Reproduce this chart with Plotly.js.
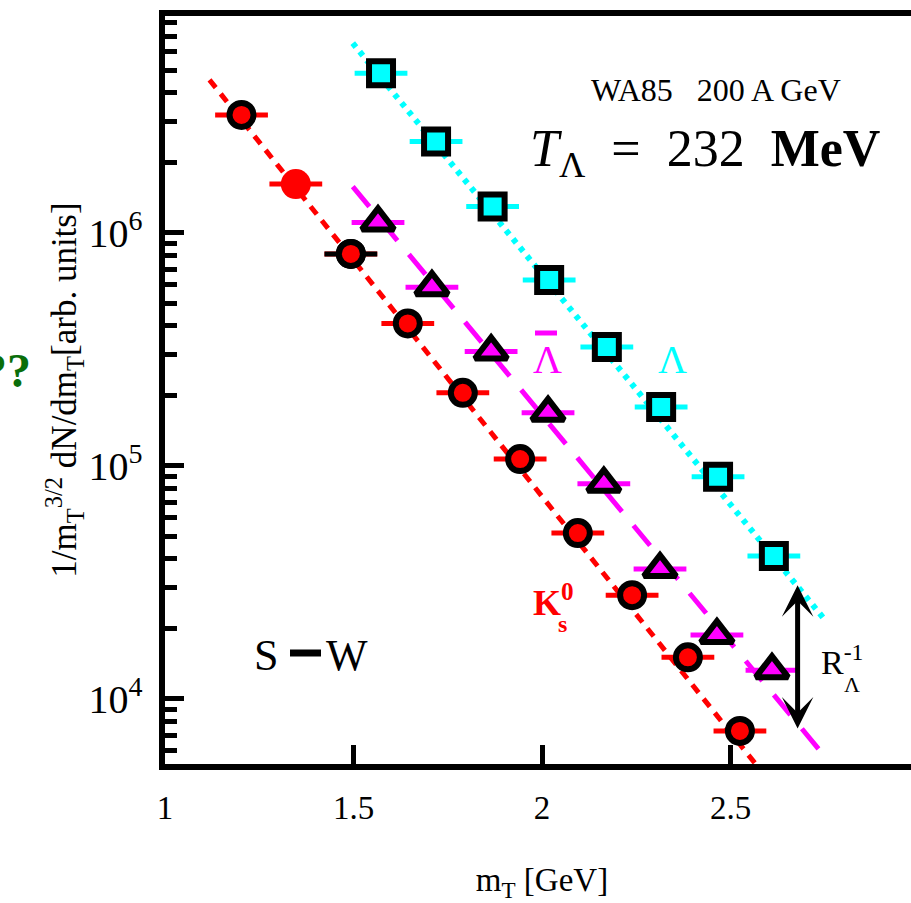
<!DOCTYPE html>
<html>
<head>
<meta charset="utf-8">
<script src="https://cdn.plot.ly/plotly-3.0.1.min.js"></script>
<style>
html,body{margin:0;padding:0;overflow:hidden;background:#fff;}
#chart{width:919px;height:903px;}
</style>
</head>
<body>
<div id="chart"></div>
<script>
// ---- data ----
// K0s (red circles, black outline)
const k0X = [1.203, 1.493, 1.644, 1.790, 1.942, 2.095, 2.239, 2.387, 2.525];
const k0Y = [3.21e6, 8.13e5, 4.09e5, 2.06e5, 1.07e5, 5.15e4, 2.79e4, 1.51e4, 7.29e3];
const k0ErrX = [0.07, 0.07, 0.07, 0.07, 0.07, 0.07, 0.07, 0.07, 0.07];
const k0BlackBarIndex = 1;
// extra filled red point (no outline)
const k0ExtraX = [1.347];
const k0ExtraY = [1.62e6];
const k0ExtraErrX = [0.07];
// anti-Lambda (magenta triangles)
const alamX = [1.565, 1.708, 1.865, 2.016, 2.164, 2.313, 2.464, 2.610];
const alamY = [1.11e6, 5.85e5, 3.10e5, 1.69e5, 8.38e4, 3.61e4, 1.88e4, 1.33e4];
const alamErrX = [0.07, 0.07, 0.07, 0.07, 0.07, 0.07, 0.07, 0.07];
// Lambda (cyan squares)
const lamX = [1.573, 1.719, 1.869, 2.019, 2.172, 2.316, 2.467, 2.615];
const lamY = [4.84e6, 2.47e6, 1.30e6, 6.28e5, 3.24e5, 1.79e5, 8.98e4, 4.11e4];
const lamErrX = [0.07, 0.07, 0.07, 0.07, 0.07, 0.07, 0.07, 0.07];
// exponential fits (end points)
const fitK0X = [1.118, 2.600];
const fitK0Y = [4.54e6, 4.50e3];
const fitAlamX = [1.498, 2.745];
const fitAlamY = [1.58e6, 5.80e3];
const fitLamX = [1.498, 2.745];
const fitLamY = [6.52e6, 2.24e4];
// R_Lambda^-1 double arrow
const arrowX = 2.678;
const arrowY = [3.08e4, 7.36e3];
// axes
const xRange = [1, 3];
const yRangeLog = [3.721, 6.931];
const xTicks = [1, 1.5, 2, 2.5];
const xTickText = ['1', '1.5', '2', '2.5'];

const RED = '#ff0000', MAG = '#ff00ff', CYAN = '#00ffff', BLK = '#000000';
const FONT = 'Liberation Serif, Times New Roman, serif';

function errX(arr, color) {
  return {type: 'data', symmetric: true, array: arr, color: color, thickness: 5, width: 0};
}

const traces = [
  {x: fitK0X, y: fitK0Y, mode: 'lines', line: {color: RED, width: 5, dash: '10px,8px'}, hoverinfo: 'skip'},
  {x: fitAlamX, y: fitAlamY, mode: 'lines', line: {color: MAG, width: 5, dash: '26px,18px'}, hoverinfo: 'skip'},
  {x: fitLamX, y: fitLamY, mode: 'lines', line: {color: CYAN, width: 6, dash: '5px,6px'}, hoverinfo: 'skip'},
  {x: k0ExtraX, y: k0ExtraY, mode: 'markers', error_x: errX(k0ExtraErrX, RED),
   marker: {symbol: 'circle', size: 30, color: RED, line: {width: 0}}},
  {x: k0X, y: k0Y, mode: 'markers', error_x: errX(k0ErrX, RED),
   marker: {symbol: 'circle', size: 24, color: RED, line: {color: BLK, width: 6}}},
  {x: [k0X[k0BlackBarIndex]], y: [k0Y[k0BlackBarIndex]], mode: 'markers',
   error_x: errX([k0ErrX[k0BlackBarIndex]], BLK),
   marker: {symbol: 'circle', size: 24, color: RED, line: {color: BLK, width: 6}}},
  {x: alamX, y: alamY, mode: 'markers', error_x: errX(alamErrX, MAG),
   marker: {symbol: 'triangle-up', size: 28, color: MAG, line: {color: BLK, width: 6}}},
  {x: lamX, y: lamY, mode: 'markers', error_x: errX(lamErrX, CYAN),
   marker: {symbol: 'square', size: 24, color: CYAN, line: {color: BLK, width: 6}}}
];

// pixel -> paper helpers for free text placement (plot area 165..919 x 16..764)
const L = 165, W = 754, B = 764, H = 748;
const px = v => (v - L) / W;
const py = v => (B - v) / H;

const annotations = [
  {xref: 'paper', yref: 'paper', x: px(716), y: py(90), text: 'WA85\u00a0\u00a0\u00a0200 A GeV',
   showarrow: false, font: {family: FONT, size: 32, color: BLK}, xanchor: 'center', yanchor: 'middle'},
  {xref: 'paper', yref: 'paper', x: px(528), y: py(153),
   text: '<i>T</i><sub>\u039b</sub>\u00a0\u00a0=\u00a0\u00a0232\u00a0\u00a0<b>MeV</b>',
   showarrow: false, font: {family: FONT, size: 52, color: BLK}, xanchor: 'left', yanchor: 'middle'},
  {xref: 'paper', yref: 'paper', x: px(547), y: py(360), text: '\u039b',
   showarrow: false, font: {family: FONT, size: 40, color: MAG}, xanchor: 'center', yanchor: 'middle'},
  {xref: 'paper', yref: 'paper', x: px(672), y: py(360), text: '\u039b',
   showarrow: false, font: {family: FONT, size: 40, color: CYAN}, xanchor: 'center', yanchor: 'middle'},
  {xref: 'paper', yref: 'paper', x: px(531), y: py(600), text: '<b>K<sup>0</sup></b>',
   showarrow: false, font: {family: FONT, size: 36, color: RED}, xanchor: 'left', yanchor: 'middle'},
  {xref: 'paper', yref: 'paper', x: px(562), y: py(624), text: '<b>s</b>',
   showarrow: false, font: {family: FONT, size: 24, color: RED}, xanchor: 'center', yanchor: 'middle'},
  {xref: 'paper', yref: 'paper', x: px(266), y: py(655), text: 'S',
   showarrow: false, font: {family: FONT, size: 44, color: BLK}, xanchor: 'center', yanchor: 'middle'},
  {xref: 'paper', yref: 'paper', x: px(347), y: py(655), text: 'W',
   showarrow: false, font: {family: FONT, size: 44, color: BLK}, xanchor: 'center', yanchor: 'middle'},
  {xref: 'paper', yref: 'paper', x: px(819), y: py(660), text: 'R<sup>-1</sup>',
   showarrow: false, font: {family: FONT, size: 34, color: BLK}, xanchor: 'left', yanchor: 'middle'},
  {xref: 'paper', yref: 'paper', x: px(852), y: py(684), text: '\u039b',
   showarrow: false, font: {family: FONT, size: 22, color: BLK}, xanchor: 'center', yanchor: 'middle'},
  {xref: 'paper', yref: 'paper', x: px(33), y: py(370), text: '<b>??</b>',
   showarrow: false, font: {family: FONT, size: 48, color: '#0a6e0a'}, xanchor: 'right', yanchor: 'middle'},
  {xref: 'x', yref: 'y', x: arrowX, y: Math.log10(arrowY[0]), axref: 'x', ayref: 'y',
   ax: arrowX, ay: Math.log10(arrowY[1]), text: '', showarrow: true,
   arrowside: 'end+start', arrowhead: 3, startarrowhead: 3, arrowsize: 1.05, startarrowsize: 1.05,
   arrowwidth: 5, arrowcolor: BLK, standoff: 0, startstandoff: 0}
];

const shapes = [
  // bar over the anti-Lambda label
  {type: 'line', xref: 'paper', yref: 'paper', x0: px(535), x1: px(557), y0: py(333), y1: py(333),
   line: {color: MAG, width: 5}},
  // heavy dash in "S-W"
  {type: 'line', xref: 'paper', yref: 'paper', x0: px(290), x1: px(321), y0: py(653), y1: py(653),
   line: {color: BLK, width: 7}}
];

const layout = {
  width: 919, height: 903,
  margin: {l: L, r: 0, t: 16, b: 139},
  paper_bgcolor: '#fff', plot_bgcolor: '#fff',
  showlegend: false,
  font: {family: FONT, color: BLK},
  xaxis: {
    range: xRange, tickvals: xTicks, ticktext: xTickText,
    ticks: 'inside', ticklen: 19, tickwidth: 5, tickcolor: BLK,
    showline: true, linewidth: 6, linecolor: BLK, mirror: true,
    showgrid: false, zeroline: false, ticklabelstandoff: 9,
    tickfont: {family: FONT, size: 33, color: BLK},
    title: {text: 'm<sub>T</sub> [GeV]', font: {family: FONT, size: 33, color: BLK}, standoff: 46}
  },
  yaxis: {
    type: 'log', range: yRangeLog, dtick: 1, exponentformat: 'power',
    ticks: 'inside', ticklen: 19, tickwidth: 5, tickcolor: BLK,
    minor: {ticks: 'inside', ticklen: 12, tickwidth: 5, tickcolor: BLK, dtick: 'D1', showgrid: false},
    showline: true, linewidth: 6, linecolor: BLK, mirror: true,
    showgrid: false, zeroline: false, ticklabelstandoff: 10,
    tickfont: {family: FONT, size: 32, color: BLK},
    title: {text: '1/m<sub>T</sub><sup>3/2</sup> dN/dm<sub>T</sub>[arb. units]',
            font: {family: FONT, size: 35, color: BLK}, standoff: 3}
  },
  annotations: annotations,
  shapes: shapes
};

Plotly.newPlot('chart', traces, layout, {displayModeBar: false, staticPlot: true});
</script>
</body>
</html>
